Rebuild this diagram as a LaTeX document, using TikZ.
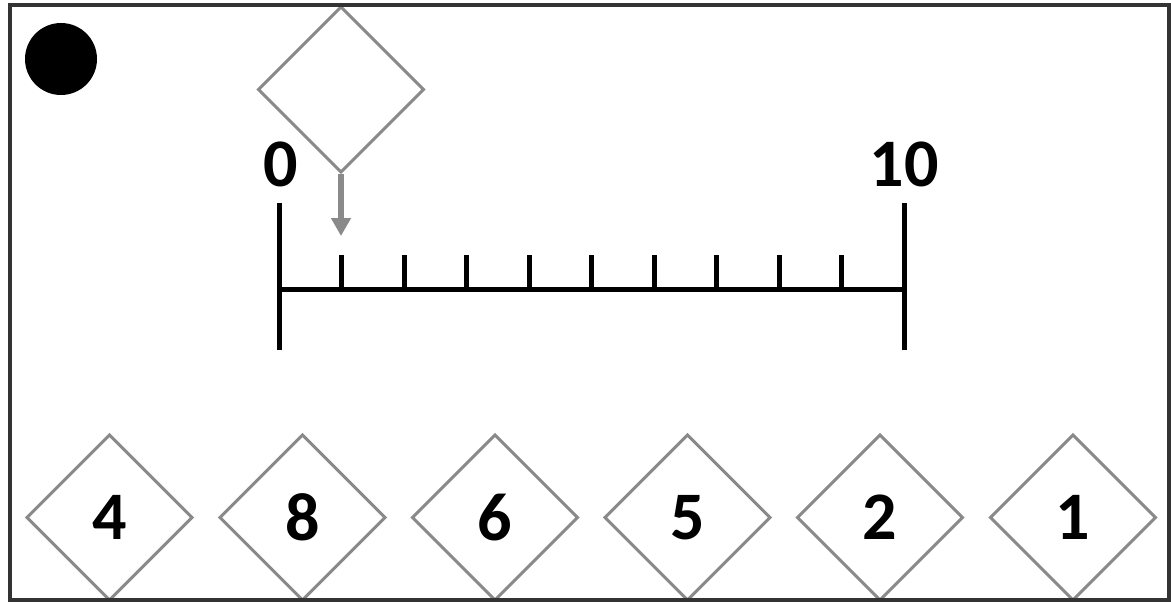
\documentclass[tikz,border=0pt]{standalone}
\usepackage{fontspec}
\setmainfont{Carlito}
\usetikzlibrary{shapes.geometric,arrows.meta}
\definecolor{dgray}{HTML}{8A8A8A}
\definecolor{frame}{HTML}{333333}
\tikzset{
  card/.style={diamond, draw=dgray, line width=3pt, fill=white, minimum width=165pt, minimum height=165pt, aspect=1, inner sep=0pt, outer sep=0pt, font=\fontsize{68}{68}\selectfont\bfseries},
  numlabel/.style={inner sep=0pt, font=\fontsize{68}{68}\selectfont\bfseries},
  scaleline/.style={line width=5pt, black},
  pointer/.style={dgray, line width=6pt, -{Triangle[width=19pt,length=18pt]}},
}
\begin{document}
\begin{tikzpicture}[x=1pt,y=-1pt]
\useasboundingbox (0,0) rectangle (1171,602);
\fill[white] (0,0) rectangle (1171,602);
% dot
\fill[black] (61,59) circle (36);
% top empty card
\node[card] (top) at (341,89.5) {};
\coordinate (tip) at (341,236);
\draw[pointer, shorten <=2pt] (top.south) -- (tip);
% number line
\coordinate (a) at (279,289);
\coordinate (b) at (904,289);
\draw[scaleline] (279,203) -- (279,350);
\draw[scaleline] (904,203) -- (904,350);
\draw[scaleline] (a) -- (b);
\foreach \k in {1,...,9} {
  \draw[scaleline] (279+62.5*\k,255) -- (279+62.5*\k,289);
}
\node[numlabel] (l0) at (281,164) {0};
\node[numlabel] (l10) at (904,164) {10};
% bottom cards
\node[card] (c4) at (109.5,517.5) {4};
\node[card] (c8) at (302.5,517.5) {8};
\node[card] (c6) at (495,517.5) {6};
\node[card] (c5) at (687.5,517.5) {5};
\node[card] (c2) at (880,517.5) {2};
\node[card] (c1) at (1073,517.5) {1};
% frame
\draw[frame, line width=4pt] (9.5,5) rectangle (1168.5,600);
\end{tikzpicture}
\end{document}
